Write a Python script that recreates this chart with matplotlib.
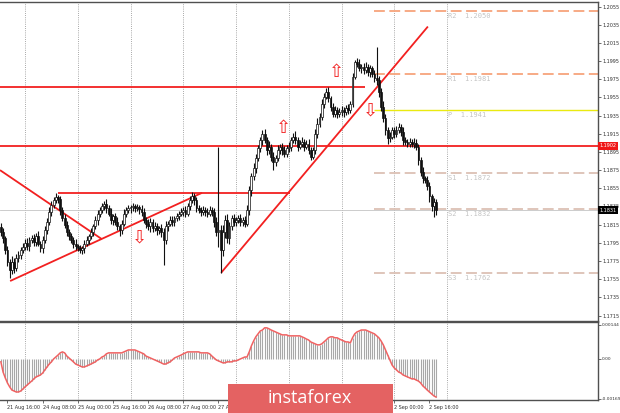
import numpy as np
import matplotlib
matplotlib.use("Agg")
import matplotlib.pyplot as plt
import matplotlib.transforms as mtransforms
from matplotlib.patches import Rectangle

# EUR/USD H1, hour 0 = 24 Aug 00:00 (weekend hours skipped)
first_hour = -11
first_open = 1.1812

closes = [
    1.1807, 1.1800, 1.1787, 1.1774, 1.1765, 1.1774, 1.1767, 1.1778, 1.1782, 1.1787, 1.1790,
    1.1795, 1.1791, 1.1798, 1.1800, 1.1796, 1.1802, 1.1794, 1.1789, 1.1798, 1.1809,
    1.1818, 1.1829, 1.1837, 1.1842, 1.1845, 1.1843, 1.1831, 1.1822, 1.1815, 1.1807,
    1.1802, 1.1798, 1.1794, 1.1791, 1.1789, 1.1787, 1.1789, 1.1794, 1.1798, 1.1802,
    1.1807, 1.1813, 1.1820, 1.1827, 1.1831, 1.1835, 1.1838, 1.1833, 1.1827, 1.1820,
    1.1824, 1.1818, 1.1813, 1.1809, 1.1816, 1.1827, 1.1831, 1.1833, 1.1834, 1.1835,
    1.1833, 1.1834, 1.1832, 1.1829, 1.1820, 1.1816, 1.1813, 1.1818, 1.1811, 1.1813,
    1.1809, 1.1811, 1.1807, 1.1798, 1.1813, 1.1816, 1.1820, 1.1818, 1.1822, 1.1824,
    1.1827, 1.1829, 1.1831, 1.1827, 1.1835, 1.1842, 1.1846, 1.1842, 1.1833, 1.1831,
    1.1829, 1.1831, 1.1829, 1.1827, 1.1831, 1.1829, 1.1818, 1.1807, 1.1809, 1.1787,
    1.1807, 1.1820, 1.1800, 1.1813, 1.1822, 1.1818, 1.1820, 1.1822, 1.1818, 1.1820,
    1.1816, 1.1831, 1.1853, 1.1868, 1.1877, 1.1888, 1.1899, 1.1908, 1.1915, 1.1908,
    1.1897, 1.1901, 1.1890, 1.1884, 1.1888, 1.1897, 1.1901, 1.1897, 1.1893, 1.1899,
    1.1901, 1.1908, 1.1912, 1.1908, 1.1901, 1.1904, 1.1906, 1.1901, 1.1904, 1.1897,
    1.1890, 1.1897, 1.1915, 1.1926, 1.1934, 1.1948, 1.1956, 1.1961, 1.1954, 1.1945,
    1.1937, 1.1941, 1.1937, 1.1939, 1.1941, 1.1939, 1.1943, 1.1941, 1.1948, 1.1978,
    1.1994, 1.1992, 1.1987, 1.1989, 1.1985, 1.1989, 1.1983, 1.1987, 1.1981, 1.1976,
    1.1974, 1.1961, 1.1945, 1.1932, 1.1919, 1.1910, 1.1912, 1.1919, 1.1915, 1.1919,
    1.1923, 1.1917, 1.1908, 1.1906, 1.1904, 1.1906, 1.1904, 1.1905, 1.1901, 1.1886,
    1.1873, 1.1866, 1.1864, 1.1857, 1.1846, 1.1835, 1.1840, 1.1831,
]

# wick sizes above / below the candle body, in pips
wick_hi = [
    5, 4, 3, 4, 3, 6, 4, 5, 4, 3, 5,
    4, 5, 3, 4, 5, 4, 6, 3, 4, 5,
    4, 5, 4, 3, 5, 3, 4, 3, 5, 4,
    3, 4, 3, 5, 3, 4, 3, 4, 5, 3,
    4, 3, 5, 4, 3, 4, 3, 5, 4, 6,
    3, 4, 5, 3, 4, 5, 3, 4, 3, 4,
    3, 4, 3, 5, 4, 3, 5, 4, 3, 5,
    4, 3, 5, 4, 6, 3, 4, 5, 3, 4,
    3, 4, 3, 5, 4, 5, 5, 4, 3, 4,
    3, 4, 3, 4, 5, 3, 4, 5, 91, 6,
    8, 6, 7, 5, 4, 5, 3, 4, 5, 3,
    4, 6, 5, 4, 6, 5, 4, 3, 4, 5,
    4, 6, 3, 5, 4, 6, 3, 4, 5, 4,
    5, 3, 4, 6, 3, 4, 5, 3, 4, 5,
    3, 4, 5, 6, 4, 5, 4, 4, 5, 3,
    4, 5, 3, 4, 5, 3, 4, 5, 3, 4,
    2, 4, 5, 3, 4, 5, 3, 4, 3, 4,
    34, 5, 4, 6, 5, 4, 5, 4, 3, 5,
    4, 3, 5, 4, 3, 4, 3, 5, 4, 3,
    4, 5, 3, 4, 5, 3, 4, 3,
]
wick_lo = [
    4, 5, 4, 5, 9, 4, 5, 3, 4, 5, 3,
    3, 4, 5, 3, 4, 5, 3, 4, 5, 3,
    4, 3, 5, 4, 3, 4, 5, 3, 4, 5,
    4, 3, 5, 4, 3, 3, 4, 5, 3, 4,
    3, 4, 3, 5, 4, 3, 4, 5, 3, 4,
    5, 3, 4, 6, 4, 3, 4, 3, 5, 4,
    4, 3, 5, 4, 3, 5, 4, 6, 4, 3,
    5, 4, 6, 27, 4, 5, 3, 4, 5, 3,
    4, 3, 5, 4, 3, 4, 3, 5, 4, 3,
    4, 3, 5, 4, 3, 4, 6, 5, 17, 25,
    6, 7, 5, 6, 4, 5, 4, 3, 4, 5,
    4, 3, 5, 6, 4, 5, 3, 4, 5, 3,
    5, 4, 5, 9, 4, 3, 4, 5, 3, 4,
    4, 5, 3, 4, 5, 3, 4, 5, 3, 4,
    4, 3, 4, 5, 3, 4, 5, 3, 4, 5,
    3, 4, 5, 3, 4, 5, 3, 4, 3, 4,
    3, 4, 3, 5, 4, 3, 4, 5, 3, 4,
    5, 6, 5, 4, 5, 6, 4, 3, 5, 4,
    3, 4, 5, 3, 4, 3, 4, 5, 4, 5,
    4, 5, 3, 4, 6, 5, 12, 5,
]

# MACD histogram, in 1e-5
macd_pts = [
    -12, -54, -78, -99, -115, -128, -132, -136, -136, -132, -124,
    -115, -107, -99, -91, -82, -74, -70, -66, -58, -45,
    -33, -21, -12, 0, 8, 16, 25, 29, 25, 12,
    4, -4, -12, -21, -25, -29, -33, -33, -29, -25,
    -21, -16, -12, -4, 0, 8, 12, 21, 25, 25,
    25, 25, 25, 25, 25, 29, 33, 37, 37, 37,
    37, 33, 29, 25, 21, 12, 8, 4, 0, -4,
    -8, -12, -16, -21, -21, -16, -12, -4, 4, 8,
    12, 16, 21, 25, 29, 29, 29, 29, 29, 29,
    25, 25, 25, 25, 21, 12, 4, -4, -8, -12,
    -16, -16, -12, -12, -12, -8, -8, -4, 0, 4,
    8, 8, 29, 54, 74, 91, 103, 115, 119, 128,
    128, 124, 119, 115, 111, 107, 103, 99, 99, 99,
    95, 95, 95, 95, 95, 95, 91, 87, 82, 78,
    70, 66, 62, 58, 58, 62, 70, 78, 87, 91,
    91, 87, 87, 82, 78, 74, 70, 70, 66, 87,
    103, 111, 115, 119, 119, 119, 115, 111, 107, 103,
    95, 87, 74, 58, 37, 16, -4, -25, -37, -45,
    -54, -58, -66, -70, -74, -78, -82, -82, -87, -91,
    -99, -111, -119, -128, -136, -144, -152, -157,
]

# drawn levels / trend lines: (hour start, hour end, price start, price end)
res_lines = [
    (-11.4, 154.7, 1.1967, 1.1967),
    (-11.4, 260.7, 1.1902, 1.1902),
    (15.0, 120.6, 1.1850, 1.1850),
    (-11.4, 35.0, 1.1875, 1.1799),
    (-6.8, 80.5, 1.1753, 1.1850),
    (89.2, 183.3, 1.1762, 1.2033),
]
pivot_names = ["R2", "R1", "P", "S1", "S2", "S3"]
pivot_levels = [1.2050, 1.1981, 1.1941, 1.1872, 1.1832, 1.1762]
pivot_colors = ["#f7a47c", "#f7a47c", "#eaea10", "#dcc0b4", "#dcc0b4", "#dcc0b4"]
pivot_start = 158.8

arrow_hours = [117.4, 141.9, 157.0, 51.9]
arrow_prices = [1.1921, 1.1983, 1.1941, 1.1801]
arrow_dirs = ["up", "up", "down", "down"]

label_hours = [-8, 8, 24, 40, 56, 72, 88, 104, 120, 136, 152, 168, 184]
label_texts = ["21 Aug 16:00", "24 Aug 08:00", "25 Aug 00:00", "25 Aug 16:00",
               "26 Aug 08:00", "27 Aug 00:00", "27 Aug 16:00", "28 Aug 08:00",
               "31 Aug 00:00", "31 Aug 16:00", "1 Sep 08:00", "2 Sep 00:00",
               "2 Sep 16:00"]
grid_hours = [0, 24, 48, 72, 96, 120, 144, 168, 192]

W, H = 620, 413


def box(x0, y0, x1, y1):
    return [x0 / W, 1 - y1 / H, (x1 - x0) / W, (y1 - y0) / H]


fig = plt.figure(figsize=(6.2, 4.13), dpi=100)
ax = fig.add_axes(box(0, 2, 598, 321))
ax2 = fig.add_axes(box(0, 322, 598, 400))

hours = np.arange(first_hour, first_hour + len(closes))
c = np.array(closes)
o = np.r_[first_open, c[:-1]]
hi = np.maximum(o, c) + np.array(wick_hi) * 1e-4
lo = np.minimum(o, c) - np.array(wick_lo) * 1e-4

xlim = (-11.4, 260.7)
for a in (ax, ax2):
    a.set_xlim(*xlim)
    for h in grid_hours:
        a.axvline(h, color="#8c8c8c", lw=0.6, ls=(0, (1, 1.6)), zorder=0)
    a.spines["left"].set_visible(False)
    for s in ("top", "right", "bottom"):
        a.spines[s].set_color("#505050")
        a.spines[s].set_linewidth(1.0)

# price panel
ax.set_ylim(1.1709, 1.2060)
ax.axhline(c[-1], color="#c4c4c4", lw=0.6, zorder=1)

for (h0, h1, p0, p1) in res_lines:
    ax.plot([h0, h1], [p0, p1], color="#f22020", lw=1.3, zorder=2,
            solid_capstyle="butt")

for name, lvl, col in zip(pivot_names, pivot_levels, pivot_colors):
    if name == "P":
        ax.hlines(lvl, pivot_start, xlim[1], color=col, lw=1.0, zorder=1)
    else:
        ax.hlines(lvl, pivot_start, xlim[1], color=col, lw=1.3,
                  linestyles=(0, (6, 2.5)), zorder=1)
    ax.text(192.5, lvl - 0.0002, f"{name}  {lvl:.4f}", fontsize=5,
            family="DejaVu Sans Mono", color="#c4c4c4", va="top", ha="left")

ax.vlines(hours, lo, hi, color="#101010", lw=0.8, zorder=3)
up = c >= o
ax.bar(hours[up], (c - o)[up], bottom=o[up], width=0.85, color="white",
       edgecolor="#101010", lw=0.5, zorder=4)
ax.bar(hours[~up], (o - c)[~up], bottom=c[~up], width=0.85, color="#101010",
       edgecolor="#101010", lw=0.5, zorder=4)

for h, p, d in zip(arrow_hours, arrow_prices, arrow_dirs):
    ax.text(h, p, "\u21e7" if d == "up" else "\u21e9", color="#f22020",
            fontsize=13, ha="center", va="center", zorder=5)

ax.yaxis.tick_right()
ax.set_yticks(np.round(np.arange(1.1715, 1.2056, 0.002), 4))
ax.yaxis.set_major_formatter(plt.FormatStrFormatter("%.4f"))
ax.tick_params(axis="y", labelsize=3.5, length=2, width=0.5, pad=1,
               colors="#303030")
ax.set_xticks([])

trans = mtransforms.blended_transform_factory(ax.transAxes, ax.transData)
ax.text(1.003, 1.1902, "1.1902", transform=trans, fontsize=3.5, color="white",
        va="center", ha="left", zorder=10, clip_on=False,
        bbox=dict(boxstyle="square,pad=0.3", fc="#f01818", ec="none"))
ax.text(1.003, c[-1], f"{c[-1]:.4f}", transform=trans, fontsize=3.5,
        color="white", va="center", ha="left", zorder=10, clip_on=False,
        bbox=dict(boxstyle="square,pad=0.3", fc="black", ec="none"))

# MACD panel
m = np.array(macd_pts) * 1e-5
ax2.set_ylim(-0.00169, 0.00152)
ax2.vlines(hours, 0, m, color="#a8a8a8", lw=0.8, zorder=2)
ax2.plot(hours, m, color="#f06262", lw=1.1, zorder=3)
ax2.yaxis.tick_right()
ax2.set_yticks([0.00140, 0.0, -0.00163])
ax2.set_yticklabels(["0.00144", "0.00", "-0.00169"])
ax2.tick_params(axis="y", labelsize=3.2, length=2, width=0.5, pad=0.5,
                colors="#303030")
ax2.set_xticks(label_hours)
ax2.set_xticklabels(label_texts, ha="left")
ax2.tick_params(axis="x", labelsize=3.5, length=2, width=0.5, pad=1.5,
                colors="#303030")

# watermark
fig.patches.append(Rectangle((228 / W, 0), (393 - 228) / W, (413 - 384) / H,
                             transform=fig.transFigure, fc="#e46262",
                             ec="none", zorder=20))
fig.text(310 / W, 1 - 398 / H, "instaforex", color="white", fontsize=13,
         family="Open Sans", ha="center", va="center", zorder=21)

fig.savefig("out.png", dpi=100, facecolor="white")
